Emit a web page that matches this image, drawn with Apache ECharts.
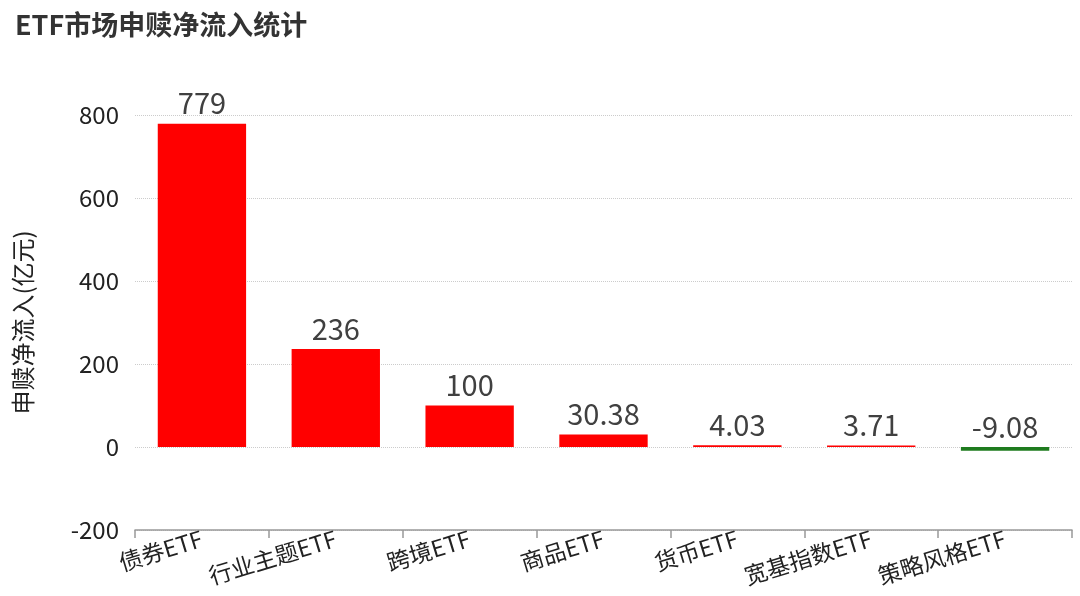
<!DOCTYPE html>
<html><head><meta charset="utf-8">
<script src="https://cdn.jsdelivr.net/npm/echarts@6/dist/echarts.min.js"></script>
<style>html,body{margin:0;padding:0;background:#fff}#c{width:1080px;height:596px}</style>
</head><body><div id="c"></div>
<script>
const categories = ['债券ETF','行业主题ETF','跨境ETF','商品ETF','货币ETF','宽基指数ETF','策略风格ETF'];
const values = [779, 236, 100, 30.38, 4.03, 3.71, -9.08];
const valueLabels = ['779','236','100','30.38','4.03','3.71','-9.08'];
const yTicks = [-200, 0, 200, 400, 600, 800];
const titleText = 'ETF市场申赎净流入统计';
const yName = '申赎净流入(亿元)';

const font = '"Noto Sans CJK SC", "Noto Sans", sans-serif';
const chart = echarts.init(document.getElementById('c'));
chart.setOption({
  backgroundColor: '#fff',
  animation: false,
  title: {
    text: titleText, left: 10, top: 6,
    textStyle: { fontFamily: font, fontSize: 27, fontWeight: 'bold', color: '#333' }
  },
  grid: { left: 135, right: 8, top: 115, bottom: 66 },
  xAxis: {
    type: 'category', data: categories,
    axisLine: { onZero: false, lineStyle: { color: '#999', width: 1.5 } },
    axisTick: { show: true, length: 8, lineStyle: { color: '#999', width: 1.5 } },
    axisLabel: { rotate: 17, fontFamily: font, fontSize: 23, color: '#222', margin: 8, interval: 0 }
  },
  yAxis: {
    type: 'value', min: yTicks[0], max: yTicks[yTicks.length - 1], interval: 200,
    name: yName, nameLocation: 'middle', nameGap: 100, nameRotate: 90,
    nameTextStyle: { fontFamily: font, fontSize: 24, color: '#222' },
    axisLine: { show: false }, axisTick: { show: false },
    axisLabel: { fontFamily: font, fontSize: 24, color: '#222', margin: 16 },
    splitLine: { lineStyle: { color: '#ccc', type: 'dotted', width: 1 } }
  },
  series: [{
    type: 'bar', barWidth: '66%',
    data: values.map((v, i) => ({
      value: v,
      itemStyle: { color: v < 0 ? '#1e7b1e' : '#ff0000' },
      label: { formatter: valueLabels[i] }
    })),
    label: { show: true, position: 'top', distance: 6, fontFamily: font, fontSize: 29, color: '#404040' }
  }]
});
</script></body></html>
